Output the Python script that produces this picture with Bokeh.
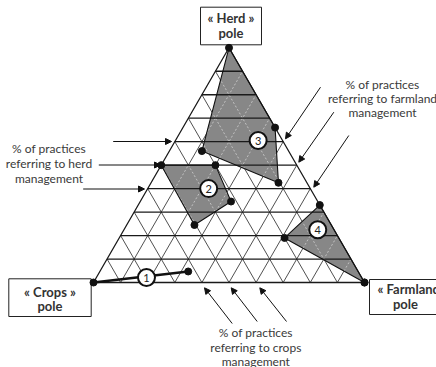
import numpy as np
from bokeh.plotting import figure
from bokeh.models import Range1d, Arrow, NormalHead, ColumnDataSource
from bokeh.core.properties import value
from bokeh.embed import file_html
from bokeh.resources import INLINE

# ---------------- data (percent of practices: herd / farmland / crops) ----------------
zone1_herd = [0, 4.7]
zone1_farmland = [0, 32.6]
zone1_crops = [100, 62.7]

zone2_herd = [50, 50, 34.5, 24.5]
zone2_farmland = [0, 20, 33.5, 25]
zone2_crops = [50, 30, 32, 50.5]

zone3_herd = [100, 66, 42.5, 56]
zone3_farmland = [0, 34, 47, 12]
zone3_crops = [0, 0, 10.5, 32]

zone4_herd = [33, 19, 0]
zone4_farmland = [67, 61, 100]
zone4_crops = [0, 20, 0]

zone_ids = ["1", "2", "3", "4"]
label_herd = [2.1, 40, 60.5, 22.5]
label_farmland = [18.5, 22.5, 30.5, 71.5]
label_crops = [79.4, 37.5, 9, 6]

grid_ticks = [10, 20, 30, 40, 50, 60, 70, 80, 90]

herd_pole = ["« Herd »", "pole"]
crops_pole = ["« Crops »", "pole"]
farmland_pole = ["« Farmland »", "pole"]
herd_axis_text = ["% of practices", "referring to herd", "management"]
farmland_axis_text = ["% of practices", "referring to farmland", "management"]
crops_axis_text = ["% of practices", "referring to crops", "management"]

# ---------------- geometry ----------------
CROPS_V = np.array([93.0, 282.0])
FARM_V = np.array([364.0, 282.0])
HERD_V = np.array([228.5, 47.3])


def tern(h, f, c):
    h = np.asarray(h, float); f = np.asarray(f, float); c = np.asarray(c, float)
    s = h + f + c
    x = (c * CROPS_V[0] + f * FARM_V[0] + h * HERD_V[0]) / s
    y = (c * CROPS_V[1] + f * FARM_V[1] + h * HERD_V[1]) / s
    return x, y


def clip_segment(p0, p1, poly):
    """Cyrus-Beck clipping of a segment to a convex polygon."""
    p0 = np.array(p0, float); p1 = np.array(p1, float)
    px, py = poly
    n = len(px)
    area = sum(px[i] * py[(i + 1) % n] - px[(i + 1) % n] * py[i] for i in range(n))
    sgn = 1.0 if area > 0 else -1.0
    d = p1 - p0
    tE, tL = 0.0, 1.0
    for i in range(n):
        a = np.array([px[i], py[i]]); b = np.array([px[(i + 1) % n], py[(i + 1) % n]])
        e = b - a
        nrm = sgn * np.array([-e[1], e[0]])
        num = nrm @ (p0 - a)
        den = nrm @ d
        if abs(den) < 1e-12:
            if num < 0:
                return None
            continue
        t = -num / den
        if den > 0:
            tE = max(tE, t)
        else:
            tL = min(tL, t)
        if tE > tL:
            return None
    return p0 + tE * d, p0 + tL * d


p = figure(width=436, height=367, x_range=Range1d(0, 436), y_range=Range1d(367, 0),
           output_backend="svg", toolbar_location=None, min_border=0,
           x_axis_type=None, y_axis_type=None)
p.grid.visible = False
p.outline_line_color = None
p.background_fill_color = "white"
p.border_fill_color = "white"

# grid lines
hx, hy = [], []
slanted = []
for t in grid_ticks:
    a = t
    b = 100 - t
    x0, y0 = tern(a, 0, b); x1, y1 = tern(a, b, 0)
    hx.append([float(x0), float(x1)]); hy.append([float(y0), float(y1)])
    x0, y0 = tern(0, a, b); x1, y1 = tern(b, a, 0)
    slanted.append(((float(x0), float(y0)), (float(x1), float(y1))))
    x0, y0 = tern(0, b, a); x1, y1 = tern(b, 0, a)
    slanted.append(((float(x0), float(y0)), (float(x1), float(y1))))
sx = [[s0[0], s1[0]] for s0, s1 in slanted]
sy = [[s0[1], s1[1]] for s0, s1 in slanted]

p.multi_line(sx, sy, line_color="#3c3c3c", line_width=0.9)

zones = [
    tern(zone3_herd, zone3_farmland, zone3_crops),
    tern(zone2_herd, zone2_farmland, zone2_crops),
    tern(zone4_herd, zone4_farmland, zone4_crops),
]
GREY = "#878787"
for zx, zy in zones:
    p.patch(list(zx), list(zy), fill_color=GREY, line_color=None)

lx, ly = [], []
for zx, zy in zones:
    for s0, s1 in slanted:
        r = clip_segment(s0, s1, (list(zx), list(zy)))
        if r is not None:
            lx.append([r[0][0], r[1][0]]); ly.append([r[0][1], r[1][1]])
p.multi_line(lx, ly, line_color="#cfcfcf", line_width=0.8, line_dash="2 2")

p.multi_line(hx, hy, line_color="#1a1a1a", line_width=1.3)

tx, ty = tern([0, 0, 100, 0], [0, 100, 0, 0], [100, 0, 0, 100])
p.line(list(tx), list(ty), line_color="#1a1a1a", line_width=1.3)

for zx, zy in zones:
    p.patch(list(zx), list(zy), fill_color=None, line_color="#111111", line_width=1.1)

z1x, z1y = tern(zone1_herd, zone1_farmland, zone1_crops)
p.line(list(z1x), list(z1y), line_color="#111111", line_width=2.6)

dot_x, dot_y = [], []
for zx, zy in zones:
    dot_x += list(zx); dot_y += list(zy)
dot_x += list(z1x); dot_y += list(z1y)
fx, fy = tern([0], [100], [0])
dot_x += list(fx); dot_y += list(fy)

# arrows
head = NormalHead(size=6, fill_color="#111111", line_color="#111111", line_width=1)
arrows = ColumnDataSource(dict(
    x0=[112.7, 98.3, 82.7, 320, 333.3, 348.3, 231.7, 256.7, 286],
    y0=[141, 164.5, 188.5, 86.7, 111.7, 135, 323, 321, 321],
    x1=[171, 160, 144, 285, 298.3, 313.3, 204, 230.7, 259.3],
    y1=[141, 164.5, 188.5, 138.3, 161.7, 186.7, 287.3, 287.3, 287.3],
))
p.add_layout(Arrow(end=head, source=arrows, x_start="x0", y_start="y0", x_end="x1", y_end="y1",
                   line_color="#111111", line_width=1, level="glyph"))

p.scatter(dot_x, dot_y, size=7, fill_color="#111111", line_color="#111111", level="overlay")

lbx, lby = tern(label_herd, label_farmland, label_crops)
p.scatter(list(lbx), list(lby), size=17, fill_color="white", line_color="#111111", line_width=2,
          level="overlay")
p.text(list(lbx), list(lby + 0.5), text=zone_ids, text_font=value("Lato"), text_font_size="11px",
       text_align="center", text_baseline="middle", text_color="#222222", level="overlay")

TXT = dict(text_font=value("Lato"), text_font_size="12px", text_align="center",
           text_baseline="middle", text_color="#3a3a3a")
p.text([48.5] * 3, [148.3, 163.3, 177.5], text=herd_axis_text, **TXT)
p.text([382] * 3, [84, 98, 112], text=farmland_axis_text, **TXT)
p.text([255.3] * 3, [331.7, 346.5, 360.5], text=crops_axis_text, **TXT)

p.quad(left=[200, 8.3, 369], right=[261, 90.7, 470], top=[6.7, 278.3, 279], bottom=[44.3, 316, 314],
       fill_color="white", line_color="#222222", line_width=1)
BOLD = dict(text_font=value("Lato"), text_font_size="13px", text_font_style="bold",
            text_baseline="middle", text_color="#333333")
p.text([230.5, 230.5], [17.5, 32.7], text=herd_pole, text_align="center", **BOLD)
p.text([49.5, 49.5], [291, 305.5], text=crops_pole, text_align="center", **BOLD)
p.text([377], [288.5], text=[farmland_pole[0]], text_align="left", **BOLD)
p.text([405], [303.5], text=[farmland_pole[1]], text_align="center", **BOLD)

open("out.html", "w").write(file_html(p, INLINE))
